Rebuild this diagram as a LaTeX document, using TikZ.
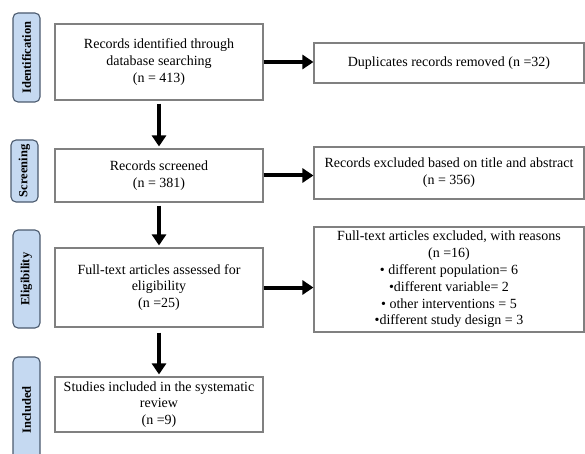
\documentclass[tikz,border=0pt]{standalone}
\usepackage{fontspec}
\setmainfont{Liberation Serif}
\usetikzlibrary{arrows.meta}

\begin{document}
\begin{tikzpicture}[
    x=1pt, y=-1pt,
    font=\fontsize{14}{16.8}\selectfont,
    blk/.style={draw={rgb,255:red,128;green,128;blue,128}, line width=1.1pt,
                fill=white, align=center, inner sep=2pt},
    lbl/.style={draw={rgb,255:red,75;green,90;blue,110}, line width=1.1pt,
                fill={rgb,255:red,197;green,217;blue,241}, rounded corners=5pt,
                rotate=90, minimum height=27pt, inner sep=1pt,
                font=\fontsize{12.5}{14}\selectfont\bfseries},
    fl/.style={-{Triangle[length=11pt,width=14pt]}, line width=4pt}
]
  \useasboundingbox (0,0) rectangle (585,454);

  % ================= 阶段标签 =================
  \node[lbl, minimum width=89pt]  (lid) at (26.5,57.5) {Identification};
  \node[lbl, minimum width=62pt]  (lsc) at (24.5,171)  {Screening};
  \node[lbl, minimum width=98pt]  (lel) at (26.5,279)  {Eligibility};
  \node[lbl, minimum width=106pt] (lin) at (26.5,410)  {Included};

  % ================= 左列 =================
  \node[blk, minimum width=208pt, minimum height=76pt] (ident) at (159,62)
       {Records identified through\\database searching\\(n = 413)};
  \node[blk, minimum width=208pt, minimum height=53pt] (screen) at (159,175.5)
       {Records screened\\(n = 381)};
  \node[blk, minimum width=208pt, minimum height=79pt] (elig) at (159,287.5)
       {Full-text articles assessed for\\eligibility\\(n =25)};
  \node[blk, minimum width=208pt, minimum height=55pt] (incl) at (159,404.5)
       {Studies included in the systematic\\review\\(n =9)};

  % ================= 右列 =================
  \node[blk, minimum width=270pt, minimum height=40pt] (dup) at (449,63)
       {Duplicates records removed (n =32)};
  \node[blk, minimum width=270pt, minimum height=52pt] (exta) at (449,173)
       {Records excluded based on title and abstract\\(n = 356)};
  \node[blk, minimum width=270pt, minimum height=105pt] (extb) at (449,279.5)
       {Full-text articles excluded, with reasons\\(n =16)\\
        • different population= 6\\•different variable= 2\\
        • other interventions = 5\\•different study design = 3};

  % ================= 连线 =================
  \draw[fl, shorten <=3pt, shorten >=2pt] (ident.south)  -- (screen.north);
  \draw[fl, shorten <=3pt, shorten >=2pt] (screen.south) -- (elig.north);
  \draw[fl, shorten <=5pt, shorten >=2pt] (elig.south)   -- (incl.north);

  \draw[fl] (ident.east)  -- (ident.east -| dup.west);
  \draw[fl] (screen.east) -- (screen.east -| exta.west);
  \draw[fl] (elig.east)   -- (elig.east -| extb.west);

\end{tikzpicture}
\end{document}
